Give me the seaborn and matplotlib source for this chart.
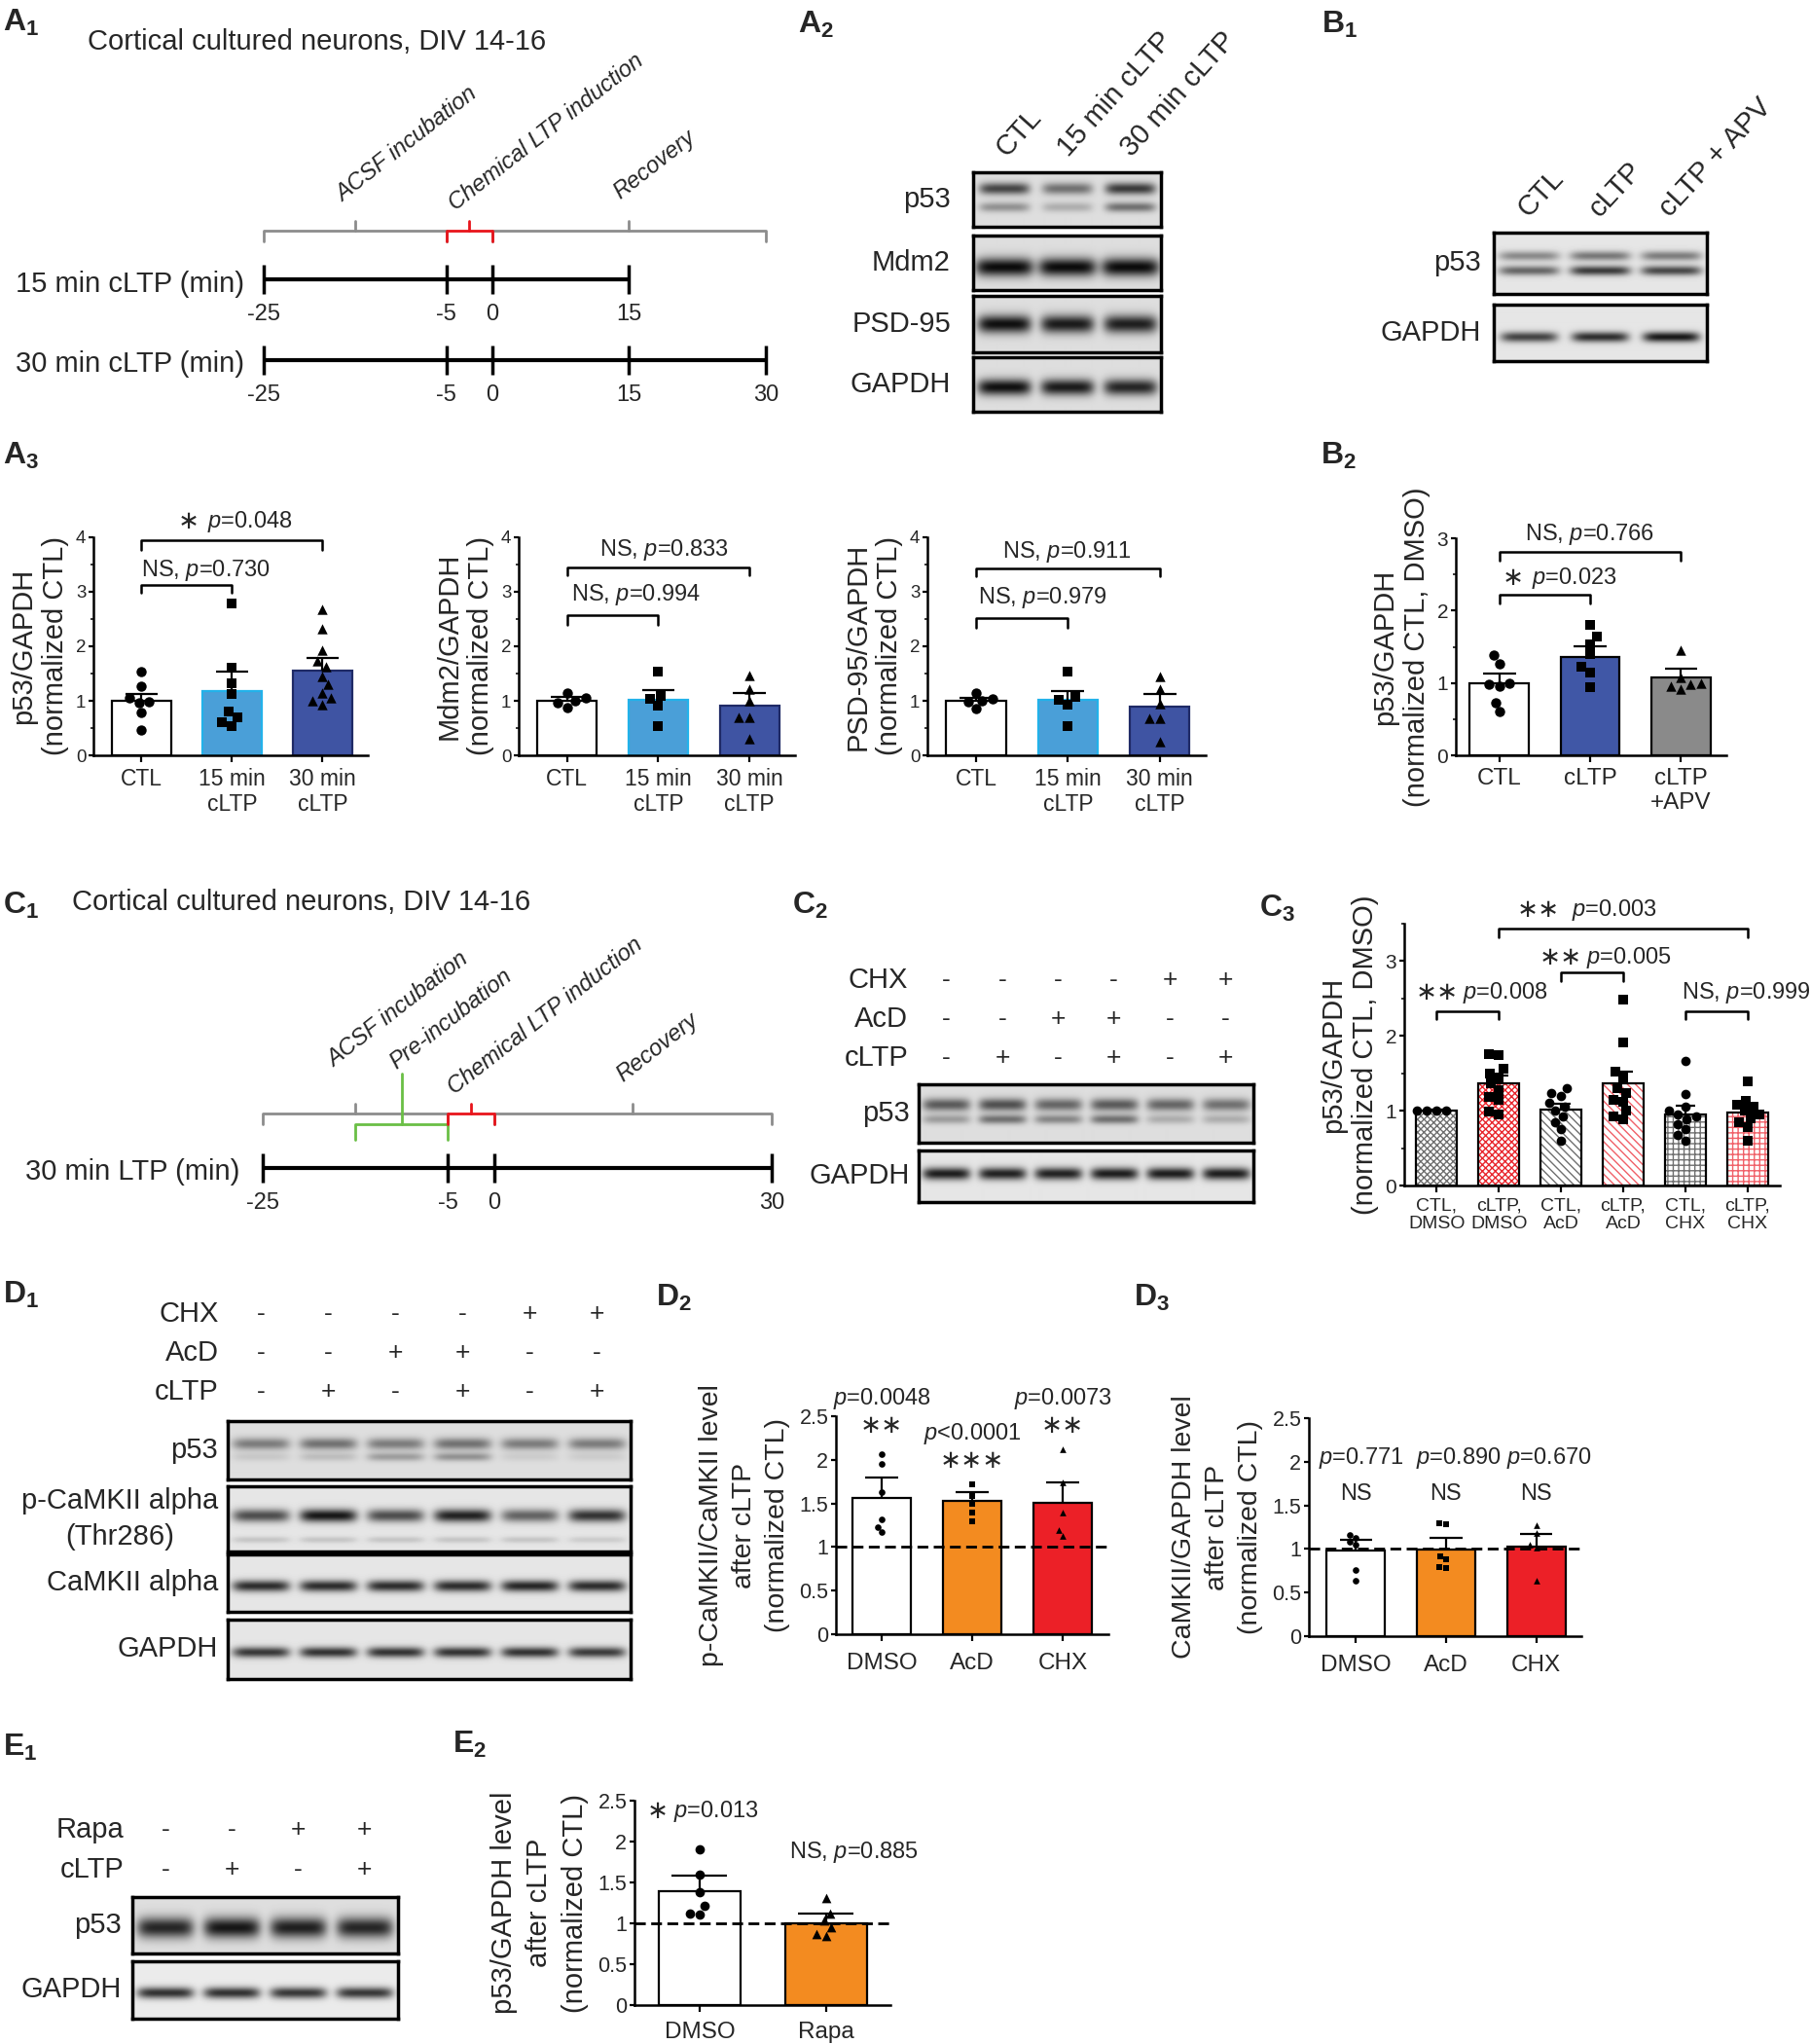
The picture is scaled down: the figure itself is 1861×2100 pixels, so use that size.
import warnings

import numpy as np
import pandas as pd
import matplotlib
matplotlib.use("Agg")
import matplotlib.pyplot as plt
from matplotlib.ticker import MultipleLocator, FuncFormatter
import seaborn as sns

warnings.filterwarnings("ignore")

W, H = 1861, 2100

# ── Data ──────────────────────────────────────────────────────────────────────

# A1 / C1 timelines (minutes)
A1_ROW15 = [-25, -5, 0, 15]
A1_ROW30 = [-25, -5, 0, 15, 30]
C1_ROW30 = [-25, -5, 0, 30]

# A3: three quantifications, CTL / 15 min / 30 min cLTP
A3_CATS = ["CTL", "15 min\ncLTP", "30 min\ncLTP"]
A3_FILLS = ["#ffffff", "#4a9fd8", "#3f54a3"]
A3_EDGES = ["#000000", "#22b2ea", "#1f2a66"]
A3_MARKERS = ["o", "s", "^"]

P53_MEAN = [1.00, 1.18, 1.55]
P53_SEM = [0.13, 0.36, 0.23]
P53_CTL = [1.54, 1.26, 1.05, 0.99, 0.96, 0.78, 0.46]
P53_15 = [2.79, 1.60, 1.33, 1.12, 0.80, 0.70, 0.61, 0.54]
P53_30 = [2.68, 2.32, 1.93, 1.73, 1.62, 1.45, 1.30, 1.15, 1.05, 1.00, 0.93]

MDM2_MEAN = [1.00, 1.02, 0.91]
MDM2_SEM = [0.07, 0.17, 0.23]
MDM2_CTL = [1.15, 1.05, 1.00, 0.97, 0.88]
MDM2_15 = [1.54, 1.09, 1.03, 0.91, 0.54]
MDM2_30 = [1.46, 1.22, 1.00, 0.70, 0.70, 0.30]

PSD95_MEAN = [1.00, 1.02, 0.90]
PSD95_SEM = [0.05, 0.16, 0.23]
PSD95_CTL = [1.15, 1.03, 1.00, 0.98, 0.85]
PSD95_15 = [1.53, 1.07, 1.02, 0.93, 0.53]
PSD95_30 = [1.45, 1.21, 0.95, 0.68, 0.68, 0.25]

# B2
B2_CATS = ["CTL", "cLTP", "cLTP\n+APV"]
B2_FILLS = ["#ffffff", "#4057a6", "#8a8a8a"]
B2_MEAN = [0.99, 1.36, 1.08]
B2_SEM = [0.14, 0.15, 0.12]
B2_CTL = [1.39, 1.27, 1.00, 0.98, 0.95, 0.73, 0.60]
B2_CLTP = [1.80, 1.64, 1.54, 1.40, 1.22, 1.15, 0.94]
B2_APV = [1.45, 1.08, 1.00, 0.98, 0.95, 0.92]

# C3
C3_CATS = ["CTL,\nDMSO", "cLTP,\nDMSO", "CTL,\nAcD", "cLTP,\nAcD", "CTL,\nCHX", "cLTP,\nCHX"]
C3_MEAN = [1.00, 1.36, 1.01, 1.36, 0.95, 0.97]
C3_SEM = [0.01, 0.11, 0.08, 0.16, 0.12, 0.09]
C3_CTL_DMSO = [1.00, 1.00, 1.00, 1.00]
C3_CLTP_DMSO = [1.76, 1.74, 1.56, 1.50, 1.45, 1.36, 1.28, 1.19, 1.15, 0.99, 0.95]
C3_CTL_ACD = [1.30, 1.24, 1.20, 1.10, 1.05, 1.00, 0.92, 0.85, 0.75, 0.60]
C3_CLTP_ACD = [2.48, 1.91, 1.52, 1.44, 1.30, 1.24, 1.15, 1.12, 1.00, 0.92, 0.88]
C3_CTL_CHX = [1.66, 1.22, 1.05, 1.00, 0.95, 0.92, 0.88, 0.82, 0.75, 0.68, 0.60]
C3_CLTP_CHX = [1.39, 1.13, 1.08, 1.05, 1.00, 0.95, 0.90, 0.85, 0.78, 0.60]
C3_MARKERS = ["o", "s", "o", "s", "o", "s"]
C3_HATCHES = ["xxxxx", "xxxxx", "\\\\\\\\", "\\\\\\\\", "+++", "+++"]
C3_HATCH_COLORS = ["#6f6f6f", "#e8262d", "#6f6f6f", "#f06068", "#6f6f6f", "#f06068"]

# D2 / D3
DRUG_CATS = ["DMSO", "AcD", "CHX"]
DRUG_FILLS = ["#ffffff", "#f38b20", "#ec2027"]
DRUG_MARKERS = ["o", "s", "^"]

D2_MEAN = [1.56, 1.53, 1.51]
D2_SEM = [0.24, 0.10, 0.23]
D2_DMSO = [2.06, 1.95, 1.63, 1.32, 1.23, 1.17]
D2_ACD = [1.72, 1.58, 1.50, 1.40, 1.30]
D2_CHX = [2.12, 1.74, 1.40, 1.19, 1.13]
D2_PTEXT = ["$p$=0.0048", "$p$<0.0001", "$p$=0.0073"]
D2_STARS = ["\u2217\u2217", "\u2217\u2217\u2217", "\u2217\u2217"]

D3_MEAN = [0.98, 0.99, 1.03]
D3_SEM = [0.13, 0.14, 0.14]
D3_DMSO = [1.16, 1.13, 1.08, 1.05, 0.76, 0.64]
D3_ACD = [1.29, 1.28, 0.92, 0.88, 0.79, 0.78]
D3_CHX = [1.27, 1.18, 1.05, 1.02, 0.64]
D3_PTEXT = ["$p$=0.771", "$p$=0.890", "$p$=0.670"]

# E2
E2_CATS = ["DMSO", "Rapa"]
E2_FILLS = ["#ffffff", "#f38b20"]
E2_MEAN = [1.39, 1.00]
E2_SEM = [0.19, 0.12]
E2_DMSO = [1.91, 1.60, 1.38, 1.21, 1.12, 1.11]
E2_RAPA = [1.31, 1.12, 1.03, 0.95, 0.87, 0.85]

# Western blot band intensities (0 = none, 1 = saturated)
A2_P53_UPPER = [0.70, 0.50, 0.75]
A2_P53_LOWER = [0.35, 0.22, 0.50]
A2_MDM2 = [0.97, 0.97, 0.97]
A2_PSD95 = [0.95, 0.90, 0.88]
A2_GAPDH = [0.95, 0.90, 0.85]
B1_P53_UPPER = [0.42, 0.50, 0.48]
B1_P53_LOWER = [0.58, 0.78, 0.72]
B1_GAPDH = [0.75, 0.85, 0.95]
C2_P53_UPPER = [0.60, 0.65, 0.55, 0.60, 0.55, 0.50]
C2_P53_LOWER = [0.30, 0.50, 0.40, 0.50, 0.22, 0.22]
C2_GAPDH = [0.92, 0.90, 0.90, 0.92, 0.92, 0.92]
D1_P53_UPPER = [0.45, 0.50, 0.45, 0.50, 0.45, 0.45]
D1_P53_LOWER = [0.10, 0.15, 0.30, 0.35, 0.08, 0.08]
D1_PCAMKII = [0.70, 0.95, 0.70, 0.90, 0.60, 0.82]
D1_PCAMKII_FAINT = [0.15, 0.15, 0.15, 0.15, 0.15, 0.12]
D1_CAMKII = [0.85, 0.85, 0.85, 0.85, 0.88, 0.85]
D1_GAPDH = [0.80, 0.82, 0.82, 0.82, 0.82, 0.78]
E1_P53 = [0.85, 0.92, 0.88, 0.85]
E1_GAPDH = [0.85, 0.85, 0.82, 0.82]

TREAT_CHX = ["-", "-", "-", "-", "+", "+"]
TREAT_ACD = ["-", "-", "+", "+", "-", "-"]
TREAT_CLTP = ["-", "+", "-", "+", "-", "+"]
E1_RAPA = ["-", "-", "+", "+"]
E1_CLTP = ["-", "+", "-", "+"]

# ── Style ─────────────────────────────────────────────────────────────────────

sns.set_theme(style="ticks")
plt.rcParams["font.family"] = ["Liberation Sans", "DejaVu Sans"]
plt.rcParams["mathtext.fontset"] = "custom"
plt.rcParams["mathtext.rm"] = "Liberation Sans"
plt.rcParams["mathtext.it"] = "Liberation Sans:italic"
plt.rcParams["mathtext.bf"] = "Liberation Sans:bold"
plt.rcParams["hatch.linewidth"] = 1.0

GRAY = "#8c8c8c"
RED = "#e8141b"
GREEN = "#6abf45"
STAR = "\u2217"

fig = plt.figure(figsize=(W / 100, H / 100), dpi=100)


def px_axes(box):
    x0, y0, x1, y1 = box
    return fig.add_axes([x0 / W, 1 - y1 / H, (x1 - x0) / W, (y1 - y0) / H])


def ftext(x, y, s, **kw):
    return fig.text(x / W, 1 - y / H, s, **kw)


def panel_label(x, y, letter, num):
    ftext(x, y, rf"$\mathbf{{{letter}}}_{{\mathbf{{{num}}}}}$", fontsize=23,
          ha="left", va="top")


# ── Timelines ─────────────────────────────────────────────────────────────────

def timeline_axes(box, t_left_px, t_right_px):
    x0, y0, x1, y1 = box
    ax = px_axes(box)
    k = (t_right_px - t_left_px) / 55.0
    ax.set_xlim(-25 - (t_left_px - x0) / k, 30 + (x1 - t_right_px) / k)
    ax.set_ylim(y1, y0)
    ax.axis("off")
    return ax


def brace(ax, t0, t1, y, color, tip_up=10, down=11):
    mid = (t0 + t1) / 2
    ax.plot([t0, t0, t1, t1], [y + down, y, y, y + down], color=color, lw=2,
            clip_on=False, solid_joinstyle="round")
    ax.plot([mid, mid], [y, y - tip_up], color=color, lw=2, clip_on=False)


def time_row(ax, times, y, label_y):
    ax.plot([times[0], times[-1]], [y, y], color="black", lw=3, clip_on=False,
            solid_capstyle="butt")
    ax.vlines(times, y - 15, y + 15, color="black", lw=2.5, clip_on=False)
    for t in times:
        ax.text(t, label_y, f"{t}", ha="center", va="center", fontsize=17)


def phase_label(ax, t, y, s):
    ax.text(t, y, s, rotation=38, rotation_mode="anchor", ha="left",
            va="baseline", style="italic", fontsize=17, clip_on=False)


# A1
panel_label(3, 8, "A", "1")
ftext(90, 43, "Cortical cultured neurons, DIV 14-16", fontsize=21, ha="left", va="center")
ax = timeline_axes((0, 0, 803, 430), 271, 787)
brace(ax, -25, -5, 237, GRAY)
brace(ax, 0, 30, 237, GRAY)
brace(ax, -5, 0, 237, RED)
time_row(ax, A1_ROW15, 287, 323)
time_row(ax, A1_ROW30, 370, 406)
phase_label(ax, -16.3, 208, "ACSF incubation")
phase_label(ax, -4.0, 217, "Chemical LTP induction")
phase_label(ax, 14.0, 205, "Recovery")
ftext(251, 292, "15 min cLTP (min)", fontsize=21, ha="right", va="center")
ftext(251, 374, "30 min cLTP (min)", fontsize=21, ha="right", va="center")

# C1
panel_label(3, 915, "C", "1")
ftext(74, 927, "Cortical cultured neurons, DIV 14-16", fontsize=21, ha="left", va="center")
ax = timeline_axes((0, 880, 803, 1260), 270, 793)
brace(ax, -25, -5, 1144, GRAY)
brace(ax, 0, 30, 1144, GRAY)
brace(ax, -15, -5, 1155, GREEN, tip_up=52, down=16)
brace(ax, -5, 0, 1144, RED)
time_row(ax, C1_ROW30, 1200, 1236)
phase_label(ax, -17.3, 1097, "ACSF incubation")
phase_label(ax, -10.6, 1099, "Pre-incubation")
phase_label(ax, -4.3, 1125, "Chemical LTP induction")
phase_label(ax, 13.9, 1112, "Recovery")
ftext(246, 1204, "30 min LTP (min)", fontsize=21, ha="right", va="center")


# ── Western blots ─────────────────────────────────────────────────────────────

def blot(box, bands, n, bg=0.87):
    x0, y0, x1, y1 = box
    ax = px_axes(box)
    w, h = int(round(x1 - x0)), int(round(y1 - y0))
    xx = np.arange(w) + 0.5
    yy = (np.arange(h) + 0.5)[:, None]
    img = np.full((h, w), bg)
    lane_w = w / n
    for yf, sig, wf, vals in bands:
        for k, v in enumerate(vals):
            cx = (k + 0.5) * lane_w
            prof_x = np.exp(-np.abs((xx - cx) / (wf * lane_w / 2)) ** 6)
            prof_y = np.exp(-((yy - yf * h) / (sig * h)) ** 2)
            img = img - 0.85 * v * prof_y * prof_x[None, :]
    img = np.clip(img, 0, 1)
    ax.imshow(img, cmap="gray", vmin=0, vmax=1, aspect="auto",
              interpolation="bilinear", extent=(0, w, h, 0))
    ax.set_xticks([])
    ax.set_yticks([])
    for s in ax.spines.values():
        s.set_visible(True)
        s.set_linewidth(2.5)
        s.set_color("black")
    return ax


def lane_centers(box, n):
    x0, _, x1, _ = box
    lw = (x1 - x0) / n
    return [x0 + (k + 0.5) * lw for k in range(n)]


def row_label(x_right, box, s):
    ftext(x_right, (box[1] + box[3]) / 2, s, ha="right", va="center", fontsize=21,
          multialignment="center", linespacing=1.37)


def sign_rows(box, n, names, rows, ys, x_right):
    xs = lane_centers(box, n)
    for name, signs, y in zip(names, rows, ys):
        ftext(x_right, y, name, ha="right", va="center", fontsize=21)
        for x, s in zip(xs, signs):
            ftext(x, y, s, ha="center", va="center", fontsize=19)


# A2
panel_label(820, 10, "A", "2")
A2_BOXES = [(1000, 177, 1193, 233), (1000, 242, 1193, 298),
            (1000, 304, 1193, 362), (1000, 367, 1193, 423)]
blot(A2_BOXES[0], [(0.30, 0.11, 0.80, A2_P53_UPPER), (0.64, 0.09, 0.80, A2_P53_LOWER)], 3)
blot(A2_BOXES[1], [(0.58, 0.17, 0.92, A2_MDM2)], 3)
blot(A2_BOXES[2], [(0.50, 0.16, 0.85, A2_PSD95)], 3)
blot(A2_BOXES[3], [(0.55, 0.15, 0.85, A2_GAPDH)], 3)
for b, s in zip(A2_BOXES, ["p53", "Mdm2", "PSD-95", "GAPDH"]):
    row_label(977, b, s)
for x, s in zip(lane_centers(A2_BOXES[0], 3), ["CTL", "15 min cLTP", "30 min cLTP"]):
    ftext(x + 2, 162, s, rotation=48, rotation_mode="anchor", ha="left",
          va="baseline", fontsize=21)

# B1
panel_label(1358, 10, "B", "1")
B1_BOXES = [(1535, 239, 1754, 302), (1535, 313, 1754, 371)]
blot(B1_BOXES[0], [(0.38, 0.08, 0.85, B1_P53_UPPER), (0.62, 0.08, 0.85, B1_P53_LOWER)], 3, bg=0.9)
blot(B1_BOXES[1], [(0.58, 0.09, 0.80, B1_GAPDH)], 3, bg=0.9)
for b, s in zip(B1_BOXES, ["p53", "GAPDH"]):
    row_label(1522, b, s)
for x, s in zip(lane_centers(B1_BOXES[0], 3), ["CTL", "cLTP", "cLTP + APV"]):
    ftext(x - 1, 224, s, rotation=47, rotation_mode="anchor", ha="left",
          va="baseline", fontsize=21)

# C2
panel_label(814, 915, "C", "2")
C2_BOXES = [(944, 1114, 1288, 1174), (944, 1182, 1288, 1235)]
blot(C2_BOXES[0], [(0.35, 0.11, 0.85, C2_P53_UPPER), (0.60, 0.08, 0.85, C2_P53_LOWER)], 6)
blot(C2_BOXES[1], [(0.45, 0.12, 0.85, C2_GAPDH)], 6, bg=0.9)
for b, s in zip(C2_BOXES, ["p53", "GAPDH"]):
    row_label(935, b, s)
sign_rows(C2_BOXES[0], 6, ["CHX", "AcD", "cLTP"], [TREAT_CHX, TREAT_ACD, TREAT_CLTP],
          [1007, 1047, 1087], 933)

# D1
panel_label(3, 1315, "D", "1")
D1_BOXES = [(234, 1460, 648, 1520), (234, 1527, 648, 1594),
            (234, 1597, 648, 1656), (234, 1664, 648, 1725)]
blot(D1_BOXES[0], [(0.40, 0.10, 0.85, D1_P53_UPPER), (0.62, 0.07, 0.85, D1_P53_LOWER)], 6)
blot(D1_BOXES[1], [(0.45, 0.10, 0.85, D1_PCAMKII), (0.82, 0.05, 0.85, D1_PCAMKII_FAINT)], 6, bg=0.9)
blot(D1_BOXES[2], [(0.55, 0.10, 0.85, D1_CAMKII)], 6, bg=0.9)
blot(D1_BOXES[3], [(0.55, 0.09, 0.85, D1_GAPDH)], 6, bg=0.9)
for b, s in zip(D1_BOXES, ["p53", "p-CaMKII alpha\n(Thr286)", "CaMKII alpha", "GAPDH"]):
    row_label(224, b, s)
sign_rows(D1_BOXES[0], 6, ["CHX", "AcD", "cLTP"], [TREAT_CHX, TREAT_ACD, TREAT_CLTP],
          [1350, 1390, 1430], 225)

# E1
panel_label(3, 1780, "E", "1")
E1_BOXES = [(136, 1949, 409, 2007), (136, 2015, 409, 2074)]
blot(E1_BOXES[0], [(0.55, 0.18, 0.85, E1_P53)], 4)
blot(E1_BOXES[1], [(0.55, 0.10, 0.85, E1_GAPDH)], 4, bg=0.92)
for b, s in zip(E1_BOXES, ["p53", "GAPDH"]):
    row_label(125, b, s)
sign_rows(E1_BOXES[0], 4, ["Rapa", "cLTP"], [E1_RAPA, E1_CLTP], [1880, 1921], 127)


# ── Bar charts ────────────────────────────────────────────────────────────────

def bar_panel(box, xlim, ylim, cats, means, sems, groups, markers, fills, ylabel,
              edges=None, yticks=None, minor=None, ms=7.5, xfs=16.5, yfs=15, lfs=21,
              lls=1.2, xls=1.2, lpad=5, xpad=4, cap=0.18, hatches=None, hatch_colors=None):
    ax = px_axes(box)
    df = pd.DataFrame({"group": cats, "value": means})
    sns.barplot(data=df, x="group", y="value", hue="group", order=cats, hue_order=cats,
                palette=dict(zip(cats, fills)), legend=False, width=0.65,
                errorbar=None, saturation=1, edgecolor="black", linewidth=1.6, ax=ax)
    bars = sorted(ax.patches, key=lambda p: p.get_x())
    if edges is not None:
        for p, ec in zip(bars, edges):
            p.set_edgecolor(ec)
    if hatches is not None:
        for p, hh, hc in zip(bars, hatches, hatch_colors):
            p.set_hatch(hh)
            p.set_edgecolor(hc)
            p.set_linewidth(0)
            ax.add_patch(plt.Rectangle((p.get_x(), p.get_y()), p.get_width(), p.get_height(),
                                       fill=False, ec="black", lw=1.6, zorder=2))

    xs = np.arange(len(cats))
    tops = np.array(means) + np.array(sems)
    ax.vlines(xs, means, tops, color="black", lw=1.6, zorder=3)
    ax.hlines(tops, xs - cap, xs + cap, color="black", lw=1.6, zorder=3)

    for cat, pts, m in zip(cats, groups, markers):
        sns.swarmplot(x=[cat] * len(pts), y=pts, order=cats, color="black", marker=m,
                      size=ms, ax=ax, zorder=4)

    ax.set_xlim(*xlim)
    ax.set_ylim(*ylim)
    sns.despine(ax=ax)
    for s in ("left", "bottom"):
        ax.spines[s].set_linewidth(1.8)
        ax.spines[s].set_color("black")
    ax.set_xlabel("")
    ax.set_ylabel(ylabel, fontsize=lfs, linespacing=lls, labelpad=lpad)
    if yticks is not None:
        ax.set_yticks(yticks)
    ax.yaxis.set_major_formatter(FuncFormatter(lambda v, _: f"{v:g}"))
    ax.tick_params(axis="both", which="major", direction="out", width=1.6, color="black")
    ax.tick_params(axis="x", labelsize=xfs, pad=xpad, length=5)
    ax.tick_params(axis="y", labelsize=yfs, pad=2, length=3.5)
    if minor:
        ax.yaxis.set_minor_locator(MultipleLocator(minor))
        ax.tick_params(axis="y", which="minor", direction="out", length=2.5, width=1.3)
    for lbl in ax.get_xticklabels():
        lbl.set_linespacing(xls)
    ax.set_facecolor("none")
    return ax


def bracket(ax, i, j, y, drop):
    ax.plot([i, i, j, j], [y - drop, y, y, y - drop], color="black", lw=1.8,
            clip_on=False)


def note(ax, x, y, s, ha="center", fs=17):
    return ax.text(x, y, s, ha=ha, va="center", fontsize=fs, clip_on=False)


def star_note(ax, x, y, stars, s, gap=3, fs=17):
    t = note(ax, x, y, s, fs=fs)
    ax.annotate(stars, xy=(0, 0.5), xycoords=t, xytext=(-gap, 0),
                textcoords="offset points", ha="right", va="center", fontsize=19,
                annotation_clip=False)


# A3
panel_label(3, 453, "A", "3")
ax = bar_panel((96, 552, 378, 776), (-0.53, 2.5), (0, 4), A3_CATS, P53_MEAN, P53_SEM,
               [P53_CTL, P53_15, P53_30], A3_MARKERS, A3_FILLS,
               "p53/GAPDH\n(normalized CTL)", edges=A3_EDGES, yticks=[0, 1, 2, 3, 4],
               minor=0.5, yfs=13.5)
bracket(ax, 0, 1, 3.13, 0.15)
note(ax, 0.0, 3.39, "NS, $p$=0.730", ha="left")
bracket(ax, 0, 2, 3.94, 0.17)
star_note(ax, 1.2, 4.28, STAR, "$p$=0.048", gap=6)

ax = bar_panel((533, 552, 817, 776), (-0.53, 2.5), (0, 4), A3_CATS, MDM2_MEAN, MDM2_SEM,
               [MDM2_CTL, MDM2_15, MDM2_30], A3_MARKERS, A3_FILLS,
               "Mdm2/GAPDH\n(normalized CTL)", edges=A3_EDGES, yticks=[0, 1, 2, 3, 4],
               minor=0.5, yfs=13.5)
bracket(ax, 0, 1, 2.57, 0.18)
note(ax, 0.05, 2.94, "NS, $p$=0.994", ha="left")
bracket(ax, 0, 2, 3.45, 0.14)
note(ax, 1.06, 3.76, "NS, $p$=0.833")

ax = bar_panel((953, 552, 1239, 776), (-0.53, 2.5), (0, 4), A3_CATS, PSD95_MEAN, PSD95_SEM,
               [PSD95_CTL, PSD95_15, PSD95_30], A3_MARKERS, A3_FILLS,
               "PSD-95/GAPDH\n(normalized CTL)", edges=A3_EDGES, yticks=[0, 1, 2, 3, 4],
               minor=0.5, yfs=13.5)
bracket(ax, 0, 1, 2.51, 0.17)
note(ax, 0.02, 2.90, "NS, $p$=0.979", ha="left")
bracket(ax, 0, 2, 3.43, 0.15)
note(ax, 0.99, 3.74, "NS, $p$=0.911")

# B2
panel_label(1357, 453, "B", "2")
ax = bar_panel((1496, 553, 1774, 776), (-0.48, 2.5), (0, 3), B2_CATS, B2_MEAN, B2_SEM,
               [B2_CTL, B2_CLTP, B2_APV], A3_MARKERS, B2_FILLS,
               "p53/GAPDH\n(normalized CTL, DMSO)", yticks=[0, 1, 2, 3], minor=0.5,
               xfs=17.5)
bracket(ax, 0, 1, 2.22, 0.12)
star_note(ax, 0.83, 2.45, STAR, "$p$=0.023", gap=6)
bracket(ax, 0, 2, 2.81, 0.12)
note(ax, 0.99, 3.05, "NS, $p$=0.766")

# C3
panel_label(1294, 918, "C", "3")
ax = bar_panel((1443, 949, 1829, 1218), (-0.52, 5.52), (0, 3.5), C3_CATS, C3_MEAN, C3_SEM,
               [C3_CTL_DMSO, C3_CLTP_DMSO, C3_CTL_ACD, C3_CLTP_ACD, C3_CTL_CHX, C3_CLTP_CHX],
               C3_MARKERS, ["#ffffff"] * 6, "p53/GAPDH\n(normalized CTL, DMSO)",
               yticks=[0, 1, 2, 3], minor=0.5, ms=7, xfs=14, xls=1.1,
               cap=0.16, hatches=C3_HATCHES, hatch_colors=C3_HATCH_COLORS)
bracket(ax, 0, 1, 2.33, 0.11)
star_note(ax, 1.10, 2.57, STAR * 2, "$p$=0.008")
bracket(ax, 2, 3, 2.85, 0.12)
star_note(ax, 3.09, 3.05, STAR * 2, "$p$=0.005")
bracket(ax, 1, 5, 3.44, 0.12)
star_note(ax, 2.86, 3.68, STAR * 2, "$p$=0.003", gap=9)
bracket(ax, 4, 5, 2.33, 0.11)
note(ax, 4.98, 2.57, "NS, $p$=0.999")

# D2
panel_label(674, 1318, "D", "2")
ax = bar_panel((859, 1455, 1139, 1679), (-0.505, 2.505), (0, 2.5), DRUG_CATS, D2_MEAN, D2_SEM,
               [D2_DMSO, D2_ACD, D2_CHX], DRUG_MARKERS, DRUG_FILLS,
               "p-CaMKII/CaMKII level\nafter cLTP\n(normalized CTL)",
               yticks=[0, 0.5, 1, 1.5, 2, 2.5], ms=4.8, xfs=17.5, yfs=15.5, lfs=20.5,
               lls=1.38, lpad=7, xpad=9)
ax.axhline(1, color="black", lw=2, ls=(0, (4, 2)), zorder=5)
for i, (pt, st) in enumerate(zip(D2_PTEXT, D2_STARS)):
    ty = 2.30 if i == 1 else 2.70
    note(ax, i, ty, pt)
    note(ax, i, ty - 0.31, st, fs=19)

# D3
panel_label(1165, 1318, "D", "3")
ax = bar_panel((1345, 1457, 1625, 1681), (-0.52, 2.5), (0, 2.5), DRUG_CATS, D3_MEAN, D3_SEM,
               [D3_DMSO, D3_ACD, D3_CHX], DRUG_MARKERS, DRUG_FILLS,
               "CaMKII/GAPDH level\nafter cLTP\n(normalized CTL)",
               yticks=[0, 0.5, 1, 1.5, 2, 2.5], ms=4.8, xfs=17.5, yfs=15.5, lfs=20.5,
               lls=1.38, lpad=7, xpad=9)
ax.axhline(1, color="black", lw=2, ls=(0, (4, 2)), zorder=5)
for i, (pt, dx) in enumerate(zip(D3_PTEXT, [0.06, 0.14, 0.14])):
    note(ax, i + dx, 2.04, pt)
    note(ax, i, 1.63, "NS")

# E2
panel_label(465, 1777, "E", "2")
ax = bar_panel((652, 1850, 915, 2060), (-0.515, 1.51), (0, 2.5), E2_CATS, E2_MEAN, E2_SEM,
               [E2_DMSO, E2_RAPA], ["o", "^"], E2_FILLS,
               "p53/GAPDH level\nafter cLTP\n(normalized CTL)",
               yticks=[0, 0.5, 1, 1.5, 2, 2.5], ms=7, xfs=17.5, yfs=15.5, lls=1.38,
               lpad=7, xpad=7, cap=0.22)
ax.axhline(1, color="black", lw=2, ls=(0, (4, 2)), zorder=5)
star_note(ax, 0.13, 2.37, STAR, "$p$=0.013", gap=4)
note(ax, 1.22, 1.87, "NS, $p$=0.885")

fig.savefig("out.png", dpi=100, facecolor="white")
